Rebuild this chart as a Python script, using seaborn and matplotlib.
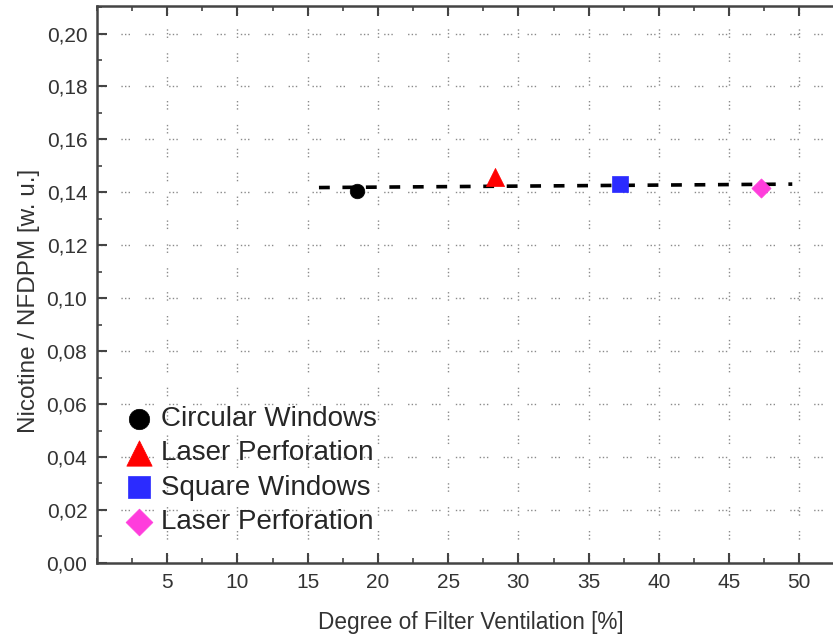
import matplotlib
matplotlib.use('Agg')
import matplotlib.pyplot as plt
import seaborn as sns
from matplotlib.ticker import MultipleLocator, FuncFormatter

# Dados
series_labels = ['Circular Windows', 'Laser Perforation', 'Square Windows', 'Laser Perforation']
ventilation = [18.5, 28.3, 37.2, 47.3]
nicotine_ratio = [0.1406, 0.1459, 0.1432, 0.1417]
marker_list = ['o', '^', 's', 'D']
color_list = ['#000000', '#ff0000', '#2b2bff', '#ff3ddc']
size_list = [110, 170, 120, 95]

# Reta de ajuste (tracejada)
fit_x = [15.8, 49.5]
fit_y = [0.1418, 0.1431]

sns.set_style('ticks')
plt.rcParams['font.family'] = ['Liberation Sans', 'DejaVu Sans']

fig = plt.figure(figsize=(8.33, 6.36), dpi=100)
ax = fig.add_axes([0.1165, 0.115, 0.8835, 0.876])

# Grade pontilhada nas marcas principais
grid_style = dict(color='#8a8a8a', linewidth=1.0, linestyle=(0, (1, 1.6, 1, 1.6, 1, 11)))
for xv in range(5, 55, 5):
    ax.axvline(xv, zorder=0, **grid_style)
for k in range(1, 11):
    ax.axhline(k * 0.02, zorder=0, **grid_style)

sns.lineplot(x=fit_x, y=fit_y, ax=ax, color='black', linewidth=2.6,
             linestyle=(0, (3.0, 3.5)), zorder=2)

for lab, xv, yv, mk, col, sz in zip(series_labels, ventilation, nicotine_ratio,
                                     marker_list, color_list, size_list):
    sns.scatterplot(x=[xv], y=[yv], ax=ax, marker=mk, color=col, s=sz,
                    edgecolor=col, linewidth=0.5, label=lab, zorder=3)

ax.set_xlim(0, 52.4)
ax.set_ylim(0, 0.2105)
ax.xaxis.set_major_locator(MultipleLocator(5))
ax.xaxis.set_minor_locator(MultipleLocator(2.5))
ax.yaxis.set_major_locator(MultipleLocator(0.02))
ax.yaxis.set_minor_locator(MultipleLocator(0.01))
ax.set_xticks(range(5, 55, 5))
ax.yaxis.set_major_formatter(FuncFormatter(lambda v, p: f'{v:.2f}'.replace('.', ',')))

ax.tick_params(which='both', direction='in', top=True, right=False,
               colors='#444444', labelcolor='#333333')
ax.tick_params(which='major', length=7, width=1.5, labelsize=15, pad=7)
ax.tick_params(which='minor', length=3.5, width=1.2)

for side in ['left', 'bottom', 'top']:
    ax.spines[side].set_color('#444444')
    ax.spines[side].set_linewidth(1.8)
ax.spines['right'].set_visible(False)

ax.set_xlabel('Degree of Filter Ventilation [%]', fontsize=16.3, color='#333333', labelpad=14)
ax.xaxis.label.set_x(0.508)
ax.set_ylabel('Nicotine / NFDPM [w. u.]', fontsize=17.5, color='#333333')
ax.yaxis.set_label_coords(-0.078, 0.471)

ax.legend(loc='lower left', bbox_to_anchor=(0.038, 0.05), frameon=False,
          fontsize=20, markerscale=1.4, handlelength=1.0, handletextpad=0.28,
          labelspacing=0.3, borderpad=0.0, borderaxespad=0.0)

plt.savefig('out.png', dpi=100)
